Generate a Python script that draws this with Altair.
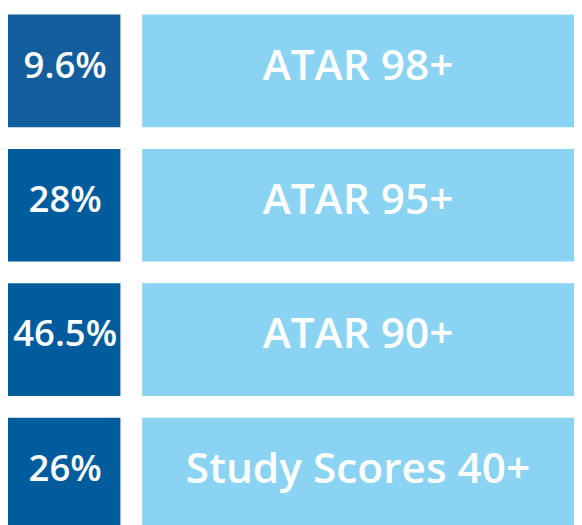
import altair as alt
import pandas as pd

labels = ["ATAR 98+", "ATAR 95+", "ATAR 90+", "Study Scores 40+"]
pcts = [9.6, 28, 46.5, 26]
pct_text = ["9.6%", "28%", "46.5%", "26%"]

df = pd.DataFrame({"label": labels, "pct": pcts, "pct_text": pct_text})

W, H = 574, 517
FONT = "Open Sans"
dark_colors = ["#135f9e", "#005c9d", "#005c9d", "#005c9d"]
light = "#8ad3f3"

y = alt.Y("label:N", axis=None, sort=labels,
          scale=alt.Scale(domain=labels, range=[3, 526], paddingInner=22 / 136, paddingOuter=0))

base = alt.Chart(df)

dark = base.mark_rect().encode(
    y=y, x=alt.value(0), x2=alt.value(114),
    fill=alt.Fill("label:N", scale=alt.Scale(domain=labels, range=dark_colors), legend=None),
)
lightbox = base.mark_rect(color=light).encode(y=y, x=alt.value(136), x2=alt.value(W + 10))

pct = base.mark_text(font=FONT, fontSize=37, fontWeight=600, color="white",
                     align="center", baseline="middle", dy=-4).encode(
    y=y, x=alt.value(58), text="pct_text:N")
lab = base.mark_text(font=FONT, fontSize=43, fontWeight=600, color="white",
                     align="center", baseline="middle", dy=-4).encode(
    y=y, x=alt.value(355), text="label:N")

chart = alt.layer(dark, lightbox, pct, lab).properties(
    width=W, height=H, autosize=alt.AutoSizeParams(type="none"), padding=0
).configure_view(stroke=None)

chart.save("out.html", embed_options={"renderer": "svg", "actions": False})
